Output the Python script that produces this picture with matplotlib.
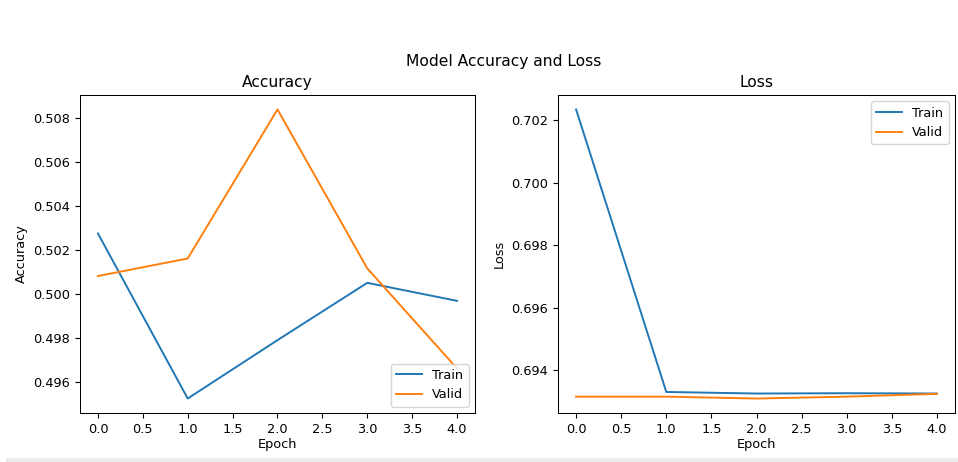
import matplotlib
matplotlib.use("Agg")
import matplotlib.pyplot as plt
from matplotlib.patches import Rectangle

epochs = [0, 1, 2, 3, 4]
train_acc = [0.50276, 0.49524, 0.4979, 0.50051, 0.49969]
valid_acc = [0.50082, 0.50162, 0.50841, 0.50117, 0.49661]
train_loss = [0.70235, 0.69331, 0.69326, 0.69327, 0.69326]
valid_loss = [0.69316, 0.69316, 0.69310, 0.69316, 0.69325]

s = 0.93
plt.rcParams.update({
    "font.size": 10 * s,
    "xtick.labelsize": 10 * s,
    "ytick.labelsize": 10 * s,
    "axes.labelsize": 10 * s,
    "axes.titlesize": 12 * s,
    "legend.fontsize": 10 * s,
    "lines.linewidth": 1.5 * s,
    "axes.linewidth": 0.8 * s,
})

fig = plt.figure(figsize=(9.58, 4.62), dpi=100)
ax1 = fig.add_axes([0.0835, 0.1061, 0.4123, 0.6883])
ax2 = fig.add_axes([0.5825, 0.1061, 0.4144, 0.6883])

ax1.plot(epochs, train_acc, label="Train")
ax1.plot(epochs, valid_acc, label="Valid")
ax1.set_title("Accuracy")
ax1.set_xlabel("Epoch", labelpad=2)
ax1.set_ylabel("Accuracy")
ax1.legend(loc="lower right")

ax2.plot(epochs, train_loss, label="Train")
ax2.plot(epochs, valid_loss, label="Valid")
ax2.set_title("Loss")
ax2.set_xlabel("Epoch", labelpad=2)
ax2.set_ylabel("Loss")
ax2.legend(loc="upper right")

for ax in (ax1, ax2):
    ax.set_xticks([0, 0.5, 1, 1.5, 2, 2.5, 3, 3.5, 4])

fig.text(0.5255, 0.867, "Model Accuracy and Loss", ha="center", va="center", fontsize=12 * s)
fig.patches.append(Rectangle((0.006, 0.0), 0.994, 4 / 462, transform=fig.transFigure,
                             facecolor="#ebebeb", edgecolor="none"))

fig.savefig("out.png", dpi=100)
